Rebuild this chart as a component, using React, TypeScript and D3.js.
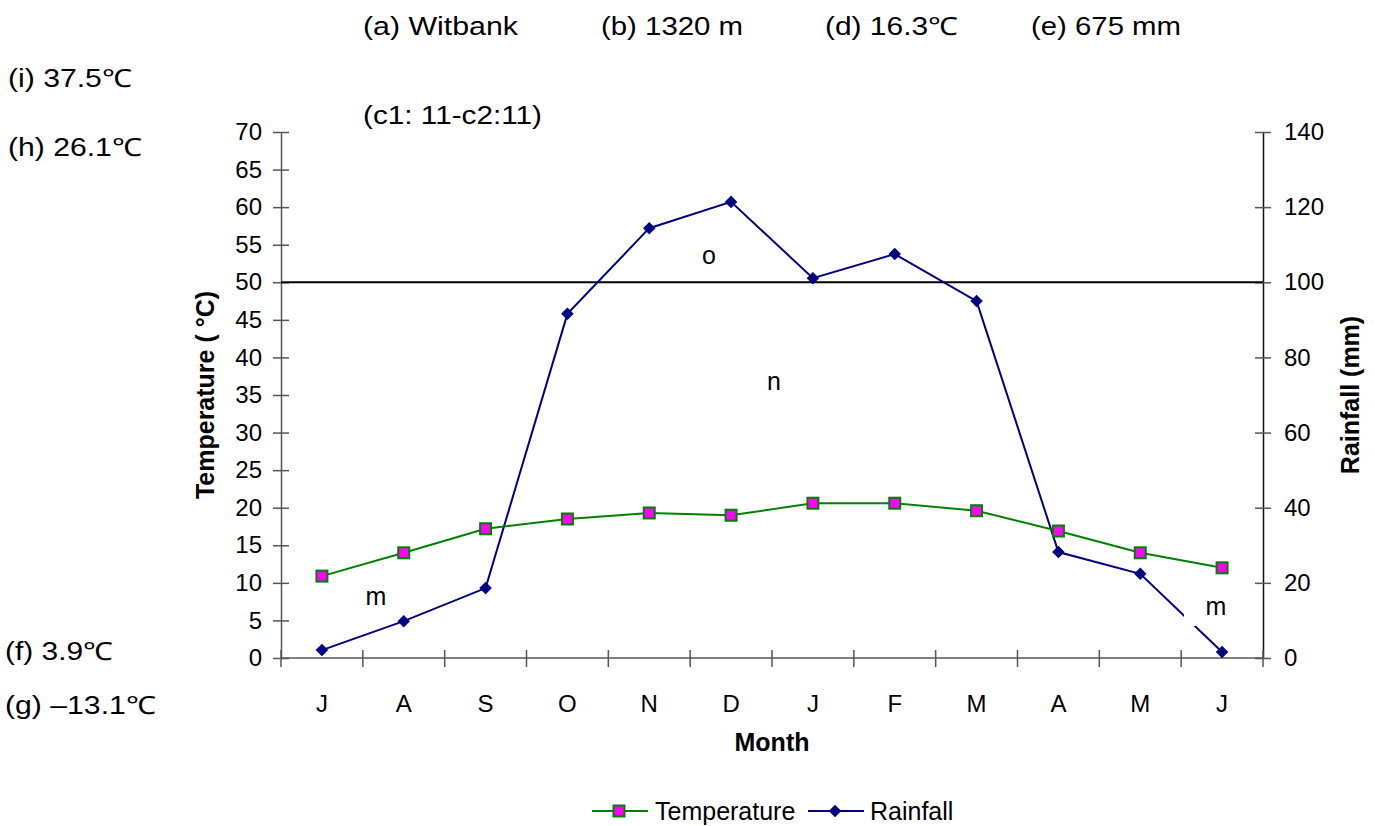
import React, { useEffect, useRef } from 'react';
import * as d3 from 'd3';

// Climate data for Witbank
const months = ['J', 'A', 'S', 'O', 'N', 'D', 'J', 'F', 'M', 'A', 'M', 'J'];
const temperature = [10.9, 14.0, 17.2, 18.5, 19.3, 19.0, 20.6, 20.6, 19.6, 16.9, 14.0, 12.0];
const rainfall = [2.1, 9.8, 18.6, 91.6, 114.4, 121.4, 101.1, 107.5, 95.0, 28.2, 22.4, 1.6];
const tempTicks = d3.range(0, 71, 5);
const rainTicks = d3.range(0, 141, 20);

// station notes around the chart (w = width the text is stretched to)
const annotations = [
  { text: '(a) Witbank', x: 363, y: 35, w: 155 },
  { text: '(b) 1320 m', x: 601, y: 35, w: 142 },
  { text: '(d) 16.3℃', x: 825, y: 35, w: 133 },
  { text: '(e) 675 mm', x: 1031, y: 35, w: 150 },
  { text: '(i) 37.5℃', x: 8, y: 87, w: 124 },
  { text: '(c1: 11-c2:11)', x: 363, y: 124, w: 179 },
  { text: '(h) 26.1℃', x: 8, y: 156, w: 134 },
  { text: '(f) 3.9℃', x: 5, y: 660, w: 108 },
  { text: '(g) –13.1℃', x: 5, y: 714, w: 151 },
];

const zoneLabels = [
  { text: 'o', x: 709, y: 264 },
  { text: 'n', x: 774, y: 390 },
  { text: 'm', x: 376, y: 605 },
  { text: 'm', x: 1216, y: 615 },
];

const App = () => {
  const ref = useRef<SVGSVGElement>(null);

  useEffect(() => {
    const width = 1375;
    const height = 826;
    const margin = { top: 132, right: 112, bottom: 168, left: 281 };
    const font = '"Liberation Sans", Arial, sans-serif';

    const svg = d3.select(ref.current);
    svg.selectAll('*').remove();
    svg.attr('width', width).attr('height', height).style('font-family', font);

    const x = d3
      .scaleBand()
      .domain(d3.range(months.length).map(String))
      .range([margin.left, width - margin.right]);
    const yT = d3.scaleLinear().domain([0, 70]).range([height - margin.bottom, margin.top]);
    const yR = d3.scaleLinear().domain([0, 140]).range([height - margin.bottom, margin.top]);
    const cx = (i: number) => x(String(i))! + x.bandwidth() / 2;

    // Annotations
    svg
      .selectAll('text.ann')
      .data(annotations)
      .enter()
      .append('text')
      .attr('class', 'ann')
      .attr('x', (d) => d.x)
      .attr('y', (d) => d.y)
      .attr('textLength', (d) => d.w)
      .attr('lengthAdjust', 'spacingAndGlyphs')
      .style('font-size', '25px')
      .text((d) => d.text);

    // Left axis
    const left = svg
      .append('g')
      .attr('transform', `translate(${margin.left},0)`)
      .call(d3.axisLeft(yT).tickValues(tempTicks).tickSize(8).tickSizeOuter(0));
    left.selectAll('.tick line').attr('x2', 8).attr('x1', -8);
    // Right axis
    const right = svg
      .append('g')
      .attr('transform', `translate(${width - margin.right},0)`)
      .call(d3.axisRight(yR).tickValues(rainTicks).tickSize(8).tickSizeOuter(0));
    right.selectAll('.tick line').attr('x1', -8).attr('x2', 8);

    // Bottom axis, ticks sit on the category borders
    const bottom = svg.append('g').attr('transform', `translate(0,${height - margin.bottom})`);
    bottom
      .append('line')
      .attr('x1', margin.left)
      .attr('x2', width - margin.right)
      .attr('stroke', '#555')
      .attr('stroke-width', 1.5);
    bottom
      .selectAll('line.bt')
      .data(d3.range(months.length + 1))
      .enter()
      .append('line')
      .attr('class', 'bt')
      .attr('x1', (i) => margin.left + i * x.bandwidth())
      .attr('x2', (i) => margin.left + i * x.bandwidth())
      .attr('y1', -8)
      .attr('y2', 9)
      .attr('stroke', '#555')
      .attr('stroke-width', 1.5);
    bottom
      .selectAll('text.mt')
      .data(months)
      .enter()
      .append('text')
      .attr('class', 'mt')
      .attr('x', (_, i) => cx(i))
      .attr('y', 54)
      .attr('text-anchor', 'middle')
      .style('font-size', '24px')
      .text((d) => d);

    [left, right].forEach((g) => {
      g.select('.domain').attr('stroke', '#555').attr('stroke-width', 1.5);
      g.selectAll('.tick line').attr('stroke', '#555').attr('stroke-width', 1.5);
      g.selectAll('.tick text').style('font-size', '24px').style('font-family', font).attr('fill', '#000');
    });
    left.selectAll('.tick text').attr('x', -19);
    right.selectAll('.tick text').attr('x', 21);
    right.select('.domain').attr('stroke', '#111');

    // 50 °C / 100 mm line
    svg
      .append('line')
      .attr('x1', margin.left)
      .attr('x2', width - margin.right)
      .attr('y1', yT(50))
      .attr('y2', yT(50))
      .attr('stroke', '#000')
      .attr('stroke-width', 2);

    // Axis titles
    const midY = (yT(0) + yT(70)) / 2;
    svg
      .append('text')
      .attr('transform', `translate(214,${midY}) rotate(-90)`)
      .attr('text-anchor', 'middle')
      .style('font-size', '25px')
      .style('font-weight', 'bold')
      .text('Temperature ( °C)');
    svg
      .append('text')
      .attr('transform', `translate(1359,${midY}) rotate(-90)`)
      .attr('text-anchor', 'middle')
      .style('font-size', '25px')
      .style('font-weight', 'bold')
      .text('Rainfall (mm)');
    svg
      .append('text')
      .attr('x', (margin.left + width - margin.right) / 2)
      .attr('y', 751)
      .attr('text-anchor', 'middle')
      .style('font-size', '25px')
      .style('font-weight', 'bold')
      .text('Month');

    // Rainfall
    const rainLine = d3
      .line<number>()
      .x((_, i) => cx(i))
      .y((d) => yR(d));
    svg
      .append('path')
      .datum(rainfall)
      .attr('d', rainLine)
      .attr('fill', 'none')
      .attr('stroke', '#000080')
      .attr('stroke-width', 2);
    const diamond = d3.symbol().type(d3.symbolDiamond2).size(100);
    svg
      .selectAll('path.rd')
      .data(rainfall)
      .enter()
      .append('path')
      .attr('class', 'rd')
      .attr('d', diamond)
      .attr('transform', (d, i) => `translate(${cx(i)},${yR(d)})`)
      .attr('fill', '#000080');

    // Temperature
    const tempLine = d3
      .line<number>()
      .x((_, i) => cx(i))
      .y((d) => yT(d));
    svg
      .append('path')
      .datum(temperature)
      .attr('d', tempLine)
      .attr('fill', 'none')
      .attr('stroke', '#008000')
      .attr('stroke-width', 2);
    svg
      .selectAll('rect.ts')
      .data(temperature)
      .enter()
      .append('rect')
      .attr('class', 'ts')
      .attr('x', (_, i) => cx(i) - 5.5)
      .attr('y', (d) => yT(d) - 5.5)
      .attr('width', 11)
      .attr('height', 11)
      .attr('fill', '#ff00ff')
      .attr('stroke', '#008000')
      .attr('stroke-width', 2);

    // zone labels; the right "m" has a white box that cuts the line
    svg
      .append('rect')
      .attr('x', 1184)
      .attr('y', 612)
      .attr('width', 12)
      .attr('height', 14)
      .attr('fill', '#fff');
    svg
      .selectAll('text.zone')
      .data(zoneLabels)
      .enter()
      .append('text')
      .attr('class', 'zone')
      .attr('x', (d) => d.x)
      .attr('y', (d) => d.y)
      .attr('text-anchor', 'middle')
      .style('font-size', '25px')
      .text((d) => d.text);

    // Legend
    const legend = svg.append('g').attr('transform', 'translate(0,811)');
    legend.append('line').attr('x1', 592).attr('x2', 648).attr('stroke', '#008000').attr('stroke-width', 2);
    legend
      .append('rect')
      .attr('x', 613.5)
      .attr('y', -5.5)
      .attr('width', 11)
      .attr('height', 11)
      .attr('fill', '#ff00ff')
      .attr('stroke', '#008000')
      .attr('stroke-width', 2);
    legend.append('text').attr('x', 655).attr('y', 9).style('font-size', '25px').text('Temperature');
    legend.append('line').attr('x1', 808).attr('x2', 864).attr('stroke', '#000080').attr('stroke-width', 2);
    legend.append('path').attr('d', diamond).attr('transform', 'translate(835,0)').attr('fill', '#000080');
    legend.append('text').attr('x', 870).attr('y', 9).style('font-size', '25px').text('Rainfall');
  }, []);

  return (
    <svg
      ref={ref}
      style={{ position: 'absolute', left: 0, top: 0, display: 'block', background: '#fff' }}
    />
  );
};

export default App;
